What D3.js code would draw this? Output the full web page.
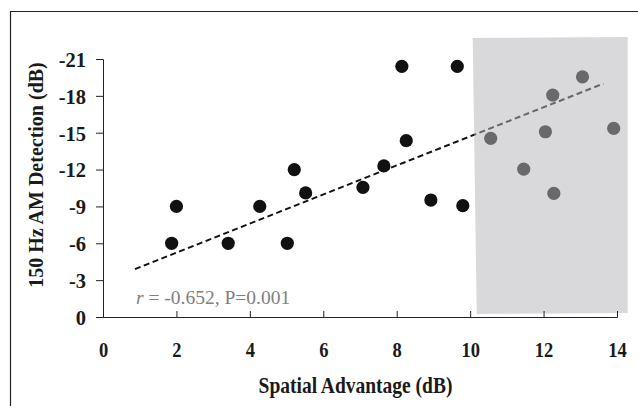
<!DOCTYPE html>
<html>
<head>
<meta charset="utf-8">
<script src="https://cdn.jsdelivr.net/npm/d3@7"></script>
<style>
  body { margin: 0; background: #fff; }
  svg { display: block; }
  .axis path, .axis line { stroke: #222; stroke-width: 1; }
  .axis text { font-family: "Liberation Serif", "Times New Roman", serif; font-weight: bold; fill: #1a1a1a; }
</style>
</head>
<body>
<div id="chart"></div>
<script>
'use strict';

// datos
const advantage = [1.87, 2.0, 3.41, 4.27, 5.02, 5.21, 5.52, 7.08, 7.65, 8.14, 8.26, 8.93, 9.65, 9.80,
  10.56, 11.46, 12.05, 12.25, 12.28, 13.06, 13.91];
const detection = [-6, -9, -6, -9, -6, -12, -10.1, -10.55, -12.3, -20.4, -14.35, -9.52, -20.4, -9.06,
  -14.54, -12.04, -15.08, -18.06, -10.06, -19.55, -15.35];

const xTicks = [0, 2, 4, 6, 8, 10, 12, 14];
const yTicks = [0, -3, -6, -9, -12, -15, -18, -21];

// linea de regresion (extremos)
const trendX = [0.87, 13.63];
const trendY = [-3.9, -19.0];

// zona sombreada (esquinas en unidades de datos)
const shadeX = [10.07, 14.29, 14.29, 10.18];
const shadeY = [-22.7, -22.8, -0.33, -0.25];

const annotation = { r: 'r', rest: ' = -0.652, P=0.001', x: 0.9, y: -1.05 };

const xTitle = 'Spatial Advantage (dB)';
const yTitle = '150 Hz AM Detection (dB)';

function drawChart(elementID) {
  const width = 638;
  const height = 406;

  const scaleX = d3.scaleLinear()
    .domain([0, 14])
    .range([103, 617]);

  const scaleY = d3.scaleLinear()
    .domain([0, -21])
    .range([317, 59]);

  const svg = d3.select('#' + elementID)
    .append('svg')
    .attr('width', width)
    .attr('height', height);

  // marco (solo arriba e izquierda quedan dentro)
  svg.append('path')
    .attr('d', 'M10.5,406V11.5H638')
    .attr('fill', 'none')
    .attr('stroke', '#222')
    .attr('stroke-width', 1.2);

  // puntos
  const points = advantage.map((d, i) => [d, detection[i]]);
  svg.selectAll('circle.point')
    .data(points)
    .enter()
    .append('circle')
    .attr('class', 'point')
    .attr('cx', d => scaleX(d[0]))
    .attr('cy', d => scaleY(d[1]))
    .attr('r', 6.6)
    .attr('fill', '#111');

  // regresion
  const line = d3.line()
    .x(d => scaleX(d[0]))
    .y(d => scaleY(d[1]));
  svg.append('path')
    .datum(trendX.map((d, i) => [d, trendY[i]]))
    .attr('d', line)
    .attr('fill', 'none')
    .attr('stroke', '#111')
    .attr('stroke-width', 2)
    .attr('stroke-dasharray', '6,3.5');

  // sombreado encima (semi transparente)
  svg.append('path')
    .datum(shadeX.map((d, i) => [d, shadeY[i]]))
    .attr('d', d => line(d) + 'Z')
    .attr('fill', 'rgb(184,184,187)')
    .attr('fill-opacity', 0.53);

  // eje X
  const xAxis = d3.axisBottom(scaleX)
    .tickValues(xTicks)
    .tickSize(-6)
    .tickFormat(d3.format('d'));
  const gx = svg.append('g')
    .attr('class', 'axis axisX')
    .attr('transform', `translate(0, ${scaleY(0)})`)
    .call(xAxis);
  gx.selectAll('text')
    .attr('y', 0)
    .attr('dy', 0)
    .attr('font-size', 18.5)
    .attr('transform', 'translate(0, 40) scale(1, 1.17)');

  // eje Y
  const yAxis = d3.axisLeft(scaleY)
    .tickValues(yTicks)
    .tickSize(7)
    .tickPadding(10)
    .tickFormat(d => d === 0 ? '0' : '-' + Math.abs(d));
  const gy = svg.append('g')
    .attr('class', 'axis axisY')
    .attr('transform', `translate(${scaleX(0)}, 0)`)
    .call(yAxis);
  gy.selectAll('text')
    .attr('font-size', 20.5)
    .attr('dy', '0.36em');

  // titulos
  svg.append('text')
    .attr('x', 0)
    .attr('y', 0)
    .attr('transform', 'translate(355.5, 393) scale(1, 1.17)')
    .attr('text-anchor', 'middle')
    .attr('font-family', '"Liberation Serif", "Times New Roman", serif')
    .attr('font-weight', 'bold')
    .attr('font-size', 19.5)
    .attr('fill', '#1a1a1a')
    .text(xTitle);

  svg.append('text')
    .attr('transform', 'translate(43, 175) rotate(-90)')
    .attr('text-anchor', 'middle')
    .attr('font-family', '"Liberation Serif", "Times New Roman", serif')
    .attr('font-weight', 'bold')
    .attr('font-size', 20)
    .attr('fill', '#1a1a1a')
    .text(yTitle);

  // anotacion
  const note = svg.append('text')
    .attr('x', scaleX(annotation.x))
    .attr('y', scaleY(annotation.y))
    .attr('font-family', '"Liberation Serif", "Times New Roman", serif')
    .attr('font-size', 19.5)
    .attr('fill', '#808080');
  note.append('tspan').attr('font-style', 'italic').text(annotation.r);
  note.append('tspan').text(annotation.rest);
}

drawChart('chart');
</script>
</body>
</html>
